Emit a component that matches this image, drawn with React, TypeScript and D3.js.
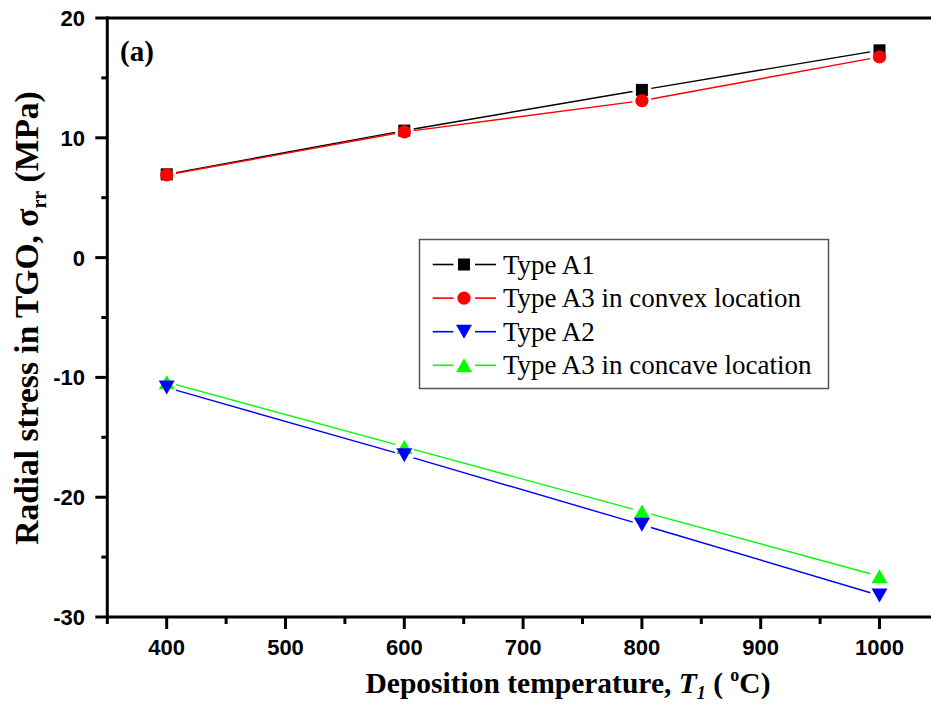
import React from 'react';
import * as d3 from 'd3';

const temps = [400, 600, 800, 1000];
const typeA1 = [6.95, 10.6, 14.0, 17.3];
const typeA3Convex = [6.9, 10.5, 13.1, 16.75];
const typeA2 = [-10.85, -16.5, -22.3, -28.2];
const typeA3Concave = [-10.4, -15.8, -21.2, -26.6];
const seriesNames = ['Type A1', 'Type A3 in convex location', 'Type A2', 'Type A3 in concave location'];
const xTickValues = [400, 500, 600, 700, 800, 900, 1000];
const xMinorValues = [350, 450, 550, 650, 750, 850, 950, 1050];
const yTickValues = [-30, -20, -10, 0, 10, 20];
const yMinorValues = [-25, -15, -5, 5, 15];

const W = 931;
const H = 706;
const SERIF = "'Times New Roman', 'Liberation Serif', 'Nimbus Roman', 'DejaVu Serif', serif";
const SANS = "'Liberation Sans', Arial, sans-serif";

type Shape = 'square' | 'circle' | 'down' | 'up';

function Marker({ shape, x, y, color }: { shape: Shape; x: number; y: number; color: string }) {
  if (shape === 'square') return <rect x={x - 6} y={y - 6} width={12} height={12} fill={color} />;
  if (shape === 'circle') return <circle cx={x} cy={y} r={6.6} fill={color} />;
  const w = 16, h = 14;
  const p = shape === 'up'
    ? `M${x},${y - h / 2}L${x + w / 2},${y + h / 2}L${x - w / 2},${y + h / 2}Z`
    : `M${x},${y + h / 2}L${x + w / 2},${y - h / 2}L${x - w / 2},${y - h / 2}Z`;
  return <path d={p} fill={color} />;
}

export default function App() {
  const x = d3.scaleLinear().domain([350, 1050]).range([107.3, 938.9]);
  const y = d3.scaleLinear().domain([-30, 20]).range([617, 18]);

  const series = [
    { name: seriesNames[0], values: typeA1, color: '#000000', shape: 'square' as Shape },
    { name: seriesNames[1], values: typeA3Convex, color: '#ff0000', shape: 'circle' as Shape },
    { name: seriesNames[3], values: typeA3Concave, color: '#00ff00', shape: 'up' as Shape },
    { name: seriesNames[2], values: typeA2, color: '#0000ff', shape: 'down' as Shape },
  ];
  const legendOrder = [0, 1, 3, 2];
  const gap = 9.5;

  const segs = (vals: number[]) => {
    const out: string[] = [];
    for (let i = 0; i < vals.length - 1; i++) {
      const x0 = x(temps[i]), y0 = y(vals[i]);
      const x1 = x(temps[i + 1]), y1 = y(vals[i + 1]);
      const dx = x1 - x0, dy = y1 - y0;
      const L = Math.hypot(dx, dy);
      const ux = dx / L, uy = dy / L;
      out.push(`M${x0 + ux * gap},${y0 + uy * gap}L${x1 - ux * gap},${y1 - uy * gap}`);
    }
    return out.join('');
  };

  const axisColor = '#000';
  const [xl, xr] = x.range();
  const [yb, yt] = y.range();
  const lgX = 419.5, lgY = 239.5, lgW = 409, lgH = 149;

  return (
    <svg width={W} height={H} style={{ position: 'absolute', left: 0, top: 0, background: '#fff' }}>
      <rect x={0} y={0} width={W} height={H} fill="#fff" />
      {series.map((s) => (
        <g key={s.name}>
          <path d={segs(s.values)} stroke={s.color} strokeWidth={1.4} fill="none" />
          {s.values.map((v, i) => (
            <Marker key={i} shape={s.shape} x={x(temps[i])} y={y(v)} color={s.color} />
          ))}
        </g>
      ))}
      <line x1={xl} x2={xr} y1={yt} y2={yt} stroke={axisColor} strokeWidth={3} />
      <line x1={xl} x2={xr} y1={yb} y2={yb} stroke={axisColor} strokeWidth={3} />
      <line x1={xl} x2={xl} y1={yt - 1.5} y2={yb + 1.5} stroke={axisColor} strokeWidth={3} />
      <line x1={xr} x2={xr} y1={yt - 1.5} y2={yb + 1.5} stroke={axisColor} strokeWidth={3} />
      {xTickValues.map((t) => (
        <g key={t}>
          <line x1={x(t)} x2={x(t)} y1={yb} y2={yb + 12} stroke={axisColor} strokeWidth={3} />
          <text x={x(t)} y={655} textAnchor="middle" fontFamily={SANS} fontWeight="bold" fontSize={22}>{t}</text>
        </g>
      ))}
      {xMinorValues.map((t) => (
        <line key={t} x1={x(t)} x2={x(t)} y1={yb} y2={yb + 7} stroke={axisColor} strokeWidth={3} />
      ))}
      {yTickValues.map((t) => (
        <g key={t}>
          <line x1={xl - 12} x2={xl} y1={y(t)} y2={y(t)} stroke={axisColor} strokeWidth={3} />
          <text x={85} y={y(t)} dy="0.36em" textAnchor="end" fontFamily={SANS} fontWeight="bold" fontSize={22}>{t}</text>
        </g>
      ))}
      {yMinorValues.map((t) => (
        <line key={t} x1={xl - 6} x2={xl} y1={y(t)} y2={y(t)} stroke={axisColor} strokeWidth={3} />
      ))}
      <text x={120} y={61} fontFamily={SERIF} fontWeight="bold" fontSize={29}>(a)</text>
      <text x={568} y={693} textAnchor="middle" fontFamily={SERIF} fontWeight="bold" fontSize={29.5}>
        Deposition temperature, <tspan fontStyle="italic">T</tspan><tspan fontStyle="italic" fontSize={18} dy={6}>1</tspan><tspan dy={-6}> ( </tspan><tspan fontSize={18} dy={-12}>o</tspan><tspan dy={12}>C)</tspan>
      </text>
      <text transform={`translate(38,318) rotate(-90)`} textAnchor="middle" fontFamily={SERIF} fontWeight="bold" fontSize={33.5}>
        Radial stress in TGO, σ<tspan fontSize={20} dy={8}>rr</tspan><tspan dy={-8}> (MPa)</tspan>
      </text>
      <rect x={lgX} y={lgY} width={lgW} height={lgH} fill="#fff" stroke="#555" strokeWidth={1.5} />
      {legendOrder.map((si, i) => {
        const s = series[si];
        const cy = 264.5 + i * 33.6;
        return (
          <g key={s.name}>
            <line x1={432.7} x2={453.5} y1={cy} y2={cy} stroke={s.color} strokeWidth={1.6} />
            <line x1={475} x2={496} y1={cy} y2={cy} stroke={s.color} strokeWidth={1.6} />
            <Marker shape={s.shape} x={464} y={cy} color={s.color} />
            <text x={503} y={cy + 9} fontFamily={SERIF} fontWeight="normal" fontSize={27}>{s.name}</text>
          </g>
        );
      })}
    </svg>
  );
}
